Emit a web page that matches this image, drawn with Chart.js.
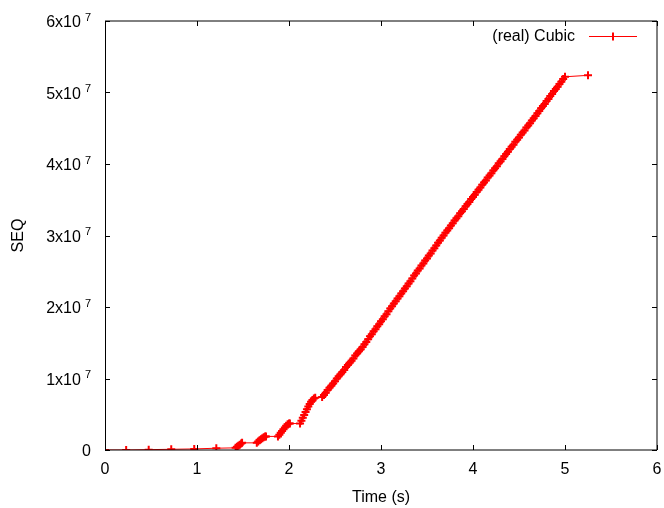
<!DOCTYPE html>
<html>
<head>
<meta charset="utf-8">
<script src="https://cdn.jsdelivr.net/npm/chart.js@4.4.0/dist/chart.umd.min.js"></script>
<style>
	body { margin: 0; background: #fff; }
</style>
</head>
<body>
<canvas id="myChart" width="664" height="508"></canvas>
<script>
const seriesLabel = '(real) Cubic';
const xTicks = [0, 1, 2, 3, 4, 5, 6];
const yTicks = [0, 1, 2, 3, 4, 5, 6]; // in units of 10^7

// time (s) and SEQ (in units of 10^7)
const timeS = [
	0, 0.23, 0.475, 0.72, 0.97, 1.21,
	1.42, 1.435, 1.45, 1.465, 1.48, 1.49,
	1.65, 1.665, 1.68, 1.695, 1.71, 1.725, 1.74, 1.75,
	1.88, 1.895, 1.91, 1.925, 1.94, 1.955, 1.97, 1.985, 2.0, 2.01,
	2.12, 2.135, 2.15, 2.165, 2.18, 2.195, 2.21, 2.225, 2.24, 2.255, 2.27, 2.285,
	2.36, 2.38, 2.40, 2.42, 2.44, 2.46, 2.48, 2.50, 2.52, 2.54, 2.56, 2.58, 2.60, 2.62, 2.64, 2.66, 2.68, 2.70, 2.72, 2.74, 2.76, 2.78, 2.80, 2.82,
	2.84, 2.86, 2.88, 2.90, 2.92, 2.94, 2.96, 2.98, 3.00, 3.02, 3.04, 3.06, 3.08, 3.10, 3.12, 3.14, 3.16, 3.18, 3.20, 3.22, 3.24, 3.26, 3.28, 3.30,
	3.32, 3.34, 3.36, 3.38, 3.40, 3.42, 3.44, 3.46, 3.48, 3.50, 3.52, 3.54, 3.56, 3.58, 3.60, 3.62, 3.64, 3.66, 3.68, 3.70, 3.72,
	3.74, 3.76, 3.78, 3.80, 3.82, 3.84, 3.86, 3.88, 3.90, 3.92, 3.94, 3.96, 3.98, 4.00, 4.02, 4.04, 4.06, 4.08, 4.10, 4.12, 4.14, 4.16, 4.18, 4.20,
	4.22, 4.24, 4.26, 4.28, 4.30, 4.32, 4.34, 4.36, 4.38, 4.40, 4.42, 4.44, 4.46, 4.48, 4.50, 4.52, 4.54, 4.56, 4.58, 4.60, 4.62, 4.64,
	4.66, 4.68, 4.70, 4.72, 4.74, 4.76, 4.78, 4.80, 4.82, 4.84, 4.86, 4.88, 4.90, 4.92, 4.94, 4.96, 4.98, 5.00,
	5.25
];
const seqE7 = [
	0, 0, 0.005, 0.01, 0.015, 0.025,
	0.03, 0.045, 0.06, 0.075, 0.09, 0.10,
	0.10, 0.12, 0.135, 0.15, 0.165, 0.18, 0.19, 0.19,
	0.19, 0.215, 0.24, 0.265, 0.29, 0.315, 0.34, 0.36, 0.37, 0.37,
	0.37, 0.41, 0.45, 0.49, 0.53, 0.57, 0.61, 0.645, 0.675, 0.70, 0.72, 0.73,
	0.74, 0.77, 0.80, 0.84, 0.87, 0.90, 0.93, 0.96, 1.00, 1.03, 1.06, 1.09, 1.12, 1.16, 1.19, 1.22, 1.25, 1.28, 1.32, 1.35, 1.38, 1.41, 1.44, 1.48,
	1.51, 1.55, 1.59, 1.62, 1.66, 1.69, 1.73, 1.76, 1.80, 1.83, 1.87, 1.90, 1.94, 1.98, 2.01, 2.05, 2.08, 2.12, 2.15, 2.19, 2.22, 2.26, 2.29, 2.33,
	2.36, 2.40, 2.44, 2.47, 2.51, 2.54, 2.58, 2.61, 2.65, 2.68, 2.72, 2.75, 2.79, 2.82, 2.86, 2.90, 2.93, 2.97, 3.00, 3.04, 3.07,
	3.10, 3.14, 3.17, 3.21, 3.24, 3.27, 3.31, 3.34, 3.37, 3.41, 3.44, 3.47, 3.51, 3.54, 3.57, 3.61, 3.64, 3.67, 3.71, 3.74, 3.77, 3.81, 3.84, 3.87,
	3.91, 3.94, 3.97, 4.01, 4.04, 4.07, 4.11, 4.14, 4.17, 4.21, 4.24, 4.27, 4.31, 4.34, 4.37, 4.41, 4.44, 4.47, 4.51, 4.54, 4.57, 4.61,
	4.64, 4.67, 4.71, 4.74, 4.78, 4.81, 4.84, 4.88, 4.91, 4.95, 4.98, 5.02, 5.05, 5.08, 5.12, 5.15, 5.19, 5.22,
	5.24
];

const points = timeS.map((t, i) => ({ x: t, y: seqE7[i] * 1e7 }));
const FONT = '"Liberation Sans", Arial, sans-serif';

// gnuplot-like frame with inward ticks, superscript y labels and line+point legend
const gnuFrame = {
	id: 'gnuFrame',
	afterDraw(chart) {
		const ctx = chart.ctx;
		const a = chart.chartArea;
		const xs = chart.scales.x, ys = chart.scales.y;
		ctx.save();
		ctx.strokeStyle = '#000';
		ctx.lineWidth = 1;
		ctx.beginPath();
		ctx.moveTo(a.left, a.top); ctx.lineTo(a.right, a.top);
		ctx.lineTo(a.right, a.bottom); ctx.lineTo(a.left, a.bottom);
		ctx.stroke();
		ctx.beginPath();
		ctx.moveTo(a.left + 0.5, a.top); ctx.lineTo(a.left + 0.5, a.bottom);
		ctx.stroke();
		// ticks
		ctx.beginPath();
		xTicks.forEach(v => {
			const px = Math.round(xs.getPixelForValue(v)) + 0.5;
			ctx.moveTo(px, a.bottom); ctx.lineTo(px, a.bottom - 5);
			ctx.moveTo(px, a.top); ctx.lineTo(px, a.top + 5);
		});
		yTicks.forEach(v => {
			const py = Math.round(ys.getPixelForValue(v * 1e7)) + 0.5;
			ctx.moveTo(a.left, py); ctx.lineTo(a.left + 5, py);
			ctx.moveTo(a.right, py); ctx.lineTo(a.right - 5, py);
		});
		ctx.stroke();
		// y labels
		ctx.fillStyle = '#000';
		ctx.textAlign = 'right';
		ctx.textBaseline = 'alphabetic';
		const rx = a.left - 14;
		yTicks.forEach(v => {
			const py = ys.getPixelForValue(v * 1e7);
			if (v === 0) {
				ctx.font = '16px ' + FONT;
				ctx.fillText('0', rx, py + 6);
				return;
			}
			ctx.font = '11px ' + FONT;
			const w = ctx.measureText('7').width;
			ctx.fillText('7', rx, py - 0.5);
			ctx.font = '16px ' + FONT;
			ctx.fillText(v + 'x10', rx - w - 4, py + 6);
		});
		// legend
		const ds = chart.data.datasets[0];
		const ly = a.top + 15.5;
		ctx.font = '16px ' + FONT;
		ctx.textBaseline = 'middle';
		ctx.fillText(ds.label, a.right - 82, ly);
		ctx.strokeStyle = ds.borderColor;
		ctx.lineWidth = 1;
		ctx.beginPath();
		ctx.moveTo(a.right - 68, ly); ctx.lineTo(a.right - 20, ly);
		ctx.stroke();
		ctx.lineWidth = 2;
		ctx.beginPath();
		ctx.moveTo(a.right - 44, ly - 4); ctx.lineTo(a.right - 44, ly + 4);
		ctx.stroke();
		ctx.restore();
	}
};

const ctx = document.getElementById('myChart').getContext('2d');
const myChart = new Chart(ctx, {
	type: 'scatter',
	data: {
		datasets: [{
			label: seriesLabel,
			data: points,
			showLine: true,
			borderColor: '#ff0000',
			backgroundColor: '#ff0000',
			borderWidth: 1,
			pointStyle: 'cross',
			pointRadius: 4,
			pointBorderWidth: 2,
			pointHoverRadius: 4,
		}]
	},
	options: {
		responsive: false,
		animation: false,
		layout: { padding: { top: 21, right: 7, left: 0, bottom: 0 } },
		plugins: {
			legend: { display: false },
			tooltip: { enabled: false },
		},
		scales: {
			x: {
				type: 'linear',
				min: 0,
				max: 6,
				afterFit(scale) {
					scale.height = 58;
					scale.paddingLeft = 0;
					scale.paddingRight = 0;
				},
				grid: { display: false, drawTicks: false },
				border: { display: false },
				ticks: {
					stepSize: 1,
					padding: 10,
					color: '#000',
					font: { family: FONT, size: 16 },
				},
				title: {
					display: true,
					text: 'Time (s)',
					color: '#000',
					font: { family: FONT, size: 16 },
					padding: { top: 0, bottom: 1 },
				},
			},
			y: {
				min: 0,
				max: 6e7,
				afterFit(scale) { scale.width = 105; },
				grid: { display: false, drawTicks: false },
				border: { display: false },
				ticks: { stepSize: 1e7, display: false },
				title: {
					display: true,
					text: 'SEQ',
					color: '#000',
					font: { family: FONT, size: 16 },
					padding: { top: 9, bottom: 0 },
				},
			},
		},
	},
	plugins: [gnuFrame],
});
</script>
</body>
</html>
